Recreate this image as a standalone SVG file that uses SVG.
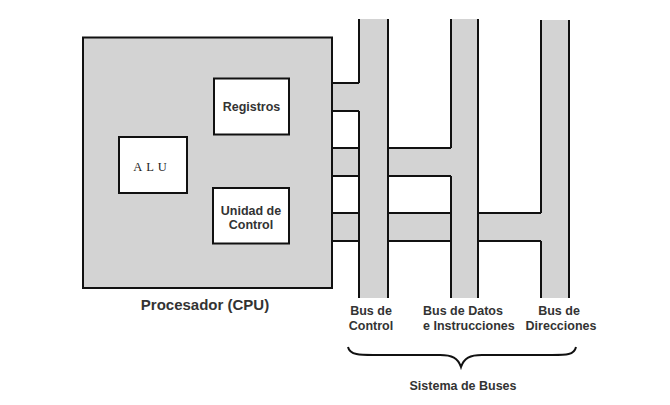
<svg xmlns="http://www.w3.org/2000/svg" width="670" height="405" viewBox="0 0 670 405">
<style>
.fill{fill:#d3d3d3;stroke:none}
.ln{stroke:#111;stroke-width:2;fill:none}
.box{fill:#fff;stroke:#111;stroke-width:2}
.t{font-family:"Liberation Sans",Arial,sans-serif;font-weight:bold;fill:#333;text-anchor:middle;font-size:12.5px}
.s{text-anchor:start}
</style>
<rect width="670" height="405" fill="#fff"/>
<g id="cpu">
<rect x="83" y="37.5" width="249" height="250.5" fill="#d3d3d3" stroke="#111" stroke-width="2"/>
<text class="t" x="205" y="309.5" style="font-size:15px">Procesador (CPU)</text>
</g>
<g id="registros">
<rect class="box" x="214" y="78.5" width="75" height="56"/>
<text class="t" x="251.5" y="111">Registros</text>
</g>
<g id="alu">
<rect class="box" x="119" y="137" width="68" height="56"/>
<text x="152" y="170.5" font-family="'Liberation Serif','Times New Roman',serif" font-size="12.5" letter-spacing="4" fill="#222" text-anchor="middle">ALU</text>
</g>
<g id="unidad">
<rect class="box" x="213" y="188" width="76" height="55.5"/>
<text class="t" x="251" y="214.5">Unidad de</text>
<text class="t" x="251" y="229">Control</text>
</g>
<g id="connectors">
<rect class="fill" x="333" y="83" width="27" height="28"/>
<rect class="fill" x="333" y="148" width="119" height="28"/>
<rect class="fill" x="333" y="213" width="209" height="28"/>
<path class="ln" d="M332,83H359M332,111H359M332,148H359M388,148H451M332,176H359M388,176H451M332,213H359M388,213H451M478,213H541M332,241H359M388,241H451M478,241H541"/>
</g>
<g id="bus-control">
<rect class="fill" x="359" y="19" width="29" height="279"/>
<path class="ln" d="M359,19V83M359,111V298M388,19V298"/>
<text class="t" x="371" y="314.5">Bus de</text>
<text class="t" x="371" y="330">Control</text>
</g>
<g id="bus-datos">
<rect class="fill" x="451" y="19" width="27" height="279"/>
<path class="ln" d="M451,19V148M451,176V298M478,19V298"/>
<text class="t s" x="423" y="314.5">Bus de Datos</text>
<text class="t s" x="423" y="330">e Instrucciones</text>
</g>
<g id="bus-direcciones">
<rect class="fill" x="541" y="20" width="28" height="278"/>
<path class="ln" d="M541,20V213M541,241V298M569,20V298"/>
<text class="t" x="559" y="314.5">Bus de</text>
<text class="t" x="561" y="330">Direcciones</text>
</g>
<g id="sistema">
<path d="M348,347C350,356 362,355 380,355L440,355C452,355 458,358 461,367C464,358 470,355 482,355L545,355C565,355 574,356 576,347" fill="none" stroke="#111" stroke-width="2"/>
<text class="t" x="463" y="389.5">Sistema de Buses</text>
</g>
</svg>
